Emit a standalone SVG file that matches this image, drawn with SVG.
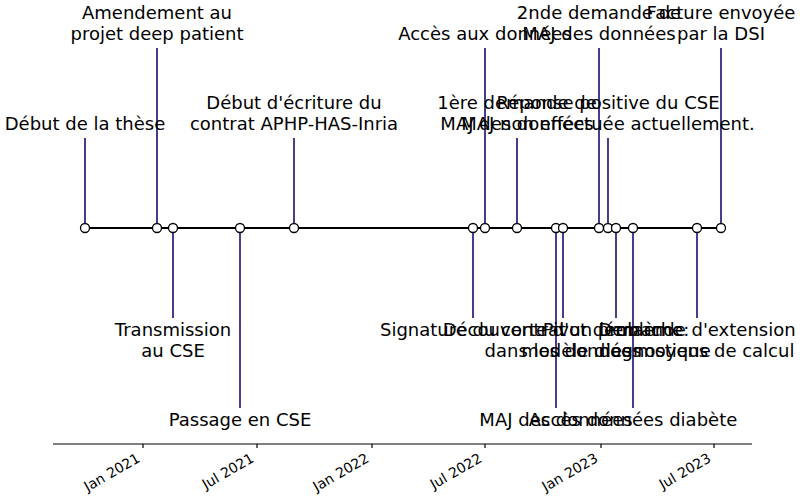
<svg xmlns="http://www.w3.org/2000/svg" width="800" height="500" viewBox="0 0 800 500">
<style>
.lbl{font-family:"DejaVu Sans",sans-serif;font-size:18px;fill:#000;text-anchor:middle}
.tk{font-family:"DejaVu Sans",sans-serif;font-size:14px;fill:#000;text-anchor:end}
.stem{stroke:#483d8b;stroke-width:2}
.dot{fill:#fff;stroke:#000;stroke-width:1.3}
</style>
<rect width="800" height="500" fill="#fff"/>
<g id="connectors">
<line class="stem" x1="85" y1="138" x2="85" y2="228"/>
<line class="stem" x1="157" y1="48" x2="157" y2="228"/>
<line class="stem" x1="173" y1="318" x2="173" y2="228"/>
<line class="stem" x1="240" y1="408" x2="240" y2="228"/>
<line class="stem" x1="294" y1="138" x2="294" y2="228"/>
<line class="stem" x1="473" y1="318" x2="473" y2="228"/>
<line class="stem" x1="485" y1="48" x2="485" y2="228"/>
<line class="stem" x1="517" y1="138" x2="517" y2="228"/>
<line class="stem" x1="556" y1="408" x2="556" y2="228"/>
<line class="stem" x1="563" y1="318" x2="563" y2="228"/>
<line class="stem" x1="599" y1="48" x2="599" y2="228"/>
<line class="stem" x1="608" y1="138" x2="608" y2="228"/>
<line class="stem" x1="616" y1="318" x2="616" y2="228"/>
<line class="stem" x1="633" y1="408" x2="633" y2="228"/>
<line class="stem" x1="697" y1="318" x2="697" y2="228"/>
<line class="stem" x1="721" y1="48" x2="721" y2="228"/>
<line x1="85" y1="228" x2="721" y2="228" stroke="#000" stroke-width="2"/>
</g>
<g id="n1"><circle class="dot" cx="85" cy="228" r="4.5"/><text class="lbl" x="85" y="130">Début de la thèse</text></g>
<g id="n2"><circle class="dot" cx="157" cy="228" r="4.5"/><text class="lbl" x="157" y="19">Amendement au</text><text class="lbl" x="157" y="40">projet deep patient</text></g>
<g id="n3"><circle class="dot" cx="173" cy="228" r="4.5"/><text class="lbl" x="173" y="336">Transmission</text><text class="lbl" x="173" y="357">au CSE</text></g>
<g id="n4"><circle class="dot" cx="240" cy="228" r="4.5"/><text class="lbl" x="240" y="426">Passage en CSE</text></g>
<g id="n5"><circle class="dot" cx="294" cy="228" r="4.5"/><text class="lbl" x="294" y="109">Début d'écriture du</text><text class="lbl" x="294" y="130">contrat APHP-HAS-Inria</text></g>
<g id="n6"><circle class="dot" cx="473" cy="228" r="4.5"/><text class="lbl" x="473" y="336">Signature du contrat</text></g>
<g id="n7"><circle class="dot" cx="485" cy="228" r="4.5"/><text class="lbl" x="485" y="40">Accès aux données</text></g>
<g id="n8"><circle class="dot" cx="517" cy="228" r="4.5"/><text class="lbl" x="517" y="109">1ère demande de</text><text class="lbl" x="517" y="130">MAJ des données</text></g>
<g id="n9"><circle class="dot" cx="556" cy="228" r="4.5"/><text class="lbl" x="556" y="426">MAJ des données</text></g>
<g id="n10"><circle class="dot" cx="563" cy="228" r="4.5"/><text class="lbl" x="563" y="336">Découverte d'un problème</text><text class="lbl" x="563" y="357">dans les données</text></g>
<g id="n11"><circle class="dot" cx="599" cy="228" r="4.5"/><text class="lbl" x="599" y="19">2nde demande de</text><text class="lbl" x="599" y="40">MAJ des données</text></g>
<g id="n12"><circle class="dot" cx="608" cy="228" r="4.5"/><text class="lbl" x="608" y="109">Réponse positive du CSE</text><text class="lbl" x="608" y="130">MAJ non effectuée actuellement.</text></g>
<g id="n13"><circle class="dot" cx="616" cy="228" r="4.5"/><text class="lbl" x="616" y="336">Pivot démarche:</text><text class="lbl" x="616" y="357">modèle diagnostique</text></g>
<g id="n14"><circle class="dot" cx="633" cy="228" r="4.5"/><text class="lbl" x="633" y="426">Accès données diabète</text></g>
<g id="n15"><circle class="dot" cx="697" cy="228" r="4.5"/><text class="lbl" x="697" y="336">Demande d'extension</text><text class="lbl" x="697" y="357">des moyens de calcul</text></g>
<g id="n16"><circle class="dot" cx="721" cy="228" r="4.5"/><text class="lbl" x="721" y="19">Facture envoyée</text><text class="lbl" x="721" y="40">par la DSI</text></g>
<g id="axis">
<line x1="53" y1="444" x2="752" y2="444" stroke="#000" stroke-width="1.2"/>
<g stroke="#000" stroke-width="1.2">
<line x1="143" y1="444" x2="143" y2="448"/>
<line x1="257" y1="444" x2="257" y2="448"/>
<line x1="372" y1="444" x2="372" y2="448"/>
<line x1="485" y1="444" x2="485" y2="448"/>
<line x1="601" y1="444" x2="601" y2="448"/>
<line x1="714" y1="444" x2="714" y2="448"/>
</g>
<text class="tk" transform="translate(141,461) rotate(-30)">Jan 2021</text>
<text class="tk" transform="translate(255,461) rotate(-30)">Jul 2021</text>
<text class="tk" transform="translate(370,461) rotate(-30)">Jan 2022</text>
<text class="tk" transform="translate(483,461) rotate(-30)">Jul 2022</text>
<text class="tk" transform="translate(599,461) rotate(-30)">Jan 2023</text>
<text class="tk" transform="translate(712,461) rotate(-30)">Jul 2023</text>
</g>
</svg>
